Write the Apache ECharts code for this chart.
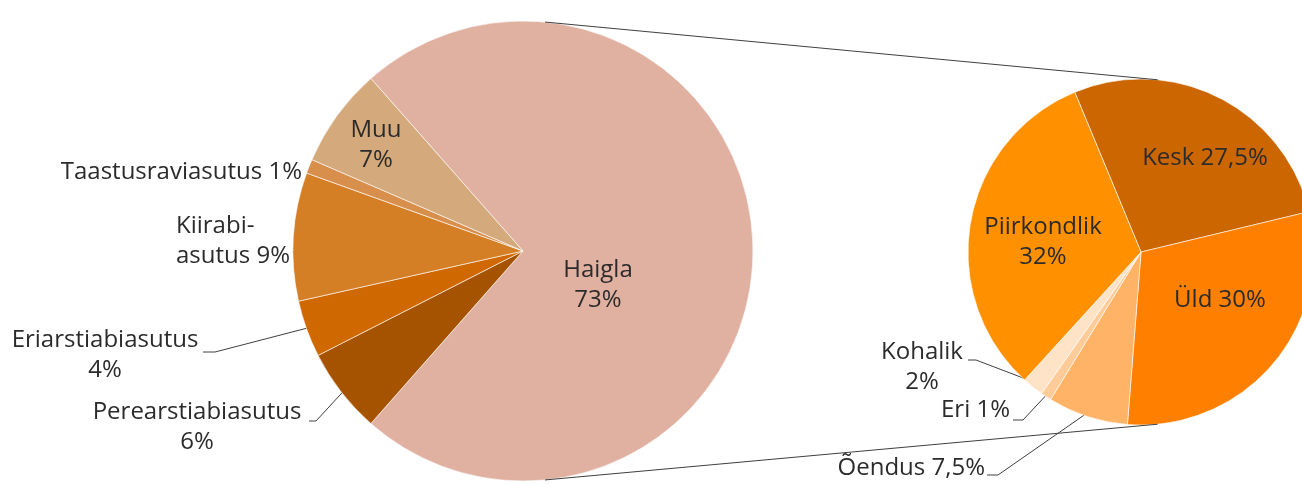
<!DOCTYPE html>
<html>
<head>
<meta charset="utf-8">
<script src="https://cdn.jsdelivr.net/npm/echarts@6/dist/echarts.min.js"></script>
<style>
html, body { margin: 0; padding: 0; background: #fff; }
#chart { width: 1302px; height: 485px; }
</style>
</head>
<body>
<div id="chart"></div>
<script>
// left pie - institution types (clockwise from the top-left edge of Haigla)
const leftNames = ['Haigla', 'Perearstiabiasutus', 'Eriarstiabiasutus', 'Kiirabi-\nasutus', 'Taastusraviasutus', 'Muu'];
const leftValues = [73, 6, 4, 9, 1, 7];
const leftBreak = [true, true, true, false, false, true];

// right pie - hospital breakdown
const rightNames = ['Kesk', 'Üld', 'Õendus', 'Eri', 'Kohalik', 'Piirkondlik'];
const rightValues = [27.5, 30, 7.5, 1, 2, 32];
const rightBreak = [false, false, false, false, true, true];

const leftColors = ['#e0b0a1', '#a65300', '#d06800', '#d47f26', '#d98f4c', '#d4a97b'];
const rightColors = ['#cc6600', '#ff8000', '#ffb366', '#ffcc99', '#ffe3c6', '#ff9100'];

// geometry
const L = { cx: 523, cy: 251, r: 230, start: 131.4 };
const R = { cx: 1141, cy: 252, r: 173, start: 112.5 };

// label placement (x, y, align, optional leader start points)
const leftLabels = [
    { x: 598, y: 285, align: 'center' },
    { x: 197, y: 427, align: 'center', line: [[309, 421], [316, 421]] },
    { x: 105, y: 355, align: 'center', line: [[203, 352], [215, 352]] },
    { x: 176, y: 241, align: 'left' },
    { x: 302, y: 172, align: 'right' },
    { x: 376, y: 145, align: 'center' }
];
const rightLabels = [
    { x: 1205, y: 158, align: 'center' },
    { x: 1220, y: 300, align: 'center' },
    { x: 985, y: 468, align: 'right', line: [[987, 475], [998, 475]] },
    { x: 1010, y: 410, align: 'right', line: [[1013, 420], [1023, 420]] },
    { x: 922, y: 367, align: 'center', line: [[968, 360], [976, 360]] },
    { x: 1043, y: 242, align: 'center' }
];

function midAngle(values, start, i) {
    let total = 0, before = 0;
    values.forEach(function (v, k) { total += v; if (k < i) before += v; });
    return start - (before + values[i] / 2) / total * 360;
}
function point(p, deg, k) {
    const a = deg * Math.PI / 180;
    return [p.cx + p.r * k * Math.cos(a), p.cy - p.r * k * Math.sin(a)];
}
function fmt(v) {
    return String(v).replace('.', ',') + '%';
}

const textStyle = {
    fontFamily: "'Open Sans', 'Noto Sans', sans-serif",
    fontSize: 24,
    color: '#2b2b2b',
    lineHeight: 30
};

function makeSeries(names, values, colors, breaks, labels, geo) {
    return {
        type: 'pie',
        center: [geo.cx, geo.cy],
        radius: geo.r,
        startAngle: geo.start,
        clockwise: true,
        avoidLabelOverlap: false,
        animation: false,
        itemStyle: { borderColor: 'rgba(255,255,255,0.6)', borderWidth: 1 },
        label: Object.assign({
            position: 'outside',
            formatter: function (p) {
                return p.name + (breaks[p.dataIndex] ? '\n' : ' ') + fmt(p.value);
            }
        }, textStyle),
        labelLine: { show: true, lineStyle: { color: '#404040', width: 1 } },
        labelLayout: function (params) {
            const s = labels[params.dataIndex];
            const out = { x: s.x, y: s.y, align: s.align, verticalAlign: 'middle' };
            if (s.line) {
                out.labelLinePoints = [s.line[0], s.line[1], point(geo, midAngle(values, geo.start, params.dataIndex), 0.97)];
            }
            return out;
        },
        data: names.map(function (n, i) {
            return {
                name: n,
                value: values[i],
                itemStyle: { color: colors[i] },
                labelLine: { show: !!labels[i].line }
            };
        })
    };
}

// connector lines between the two pies
const connAngle = 84.5;
const topA = point(L, connAngle, 1), topB = point(R, connAngle, 1);
const botA = point(L, -connAngle, 1), botB = point(R, -connAngle, 1);

const chart = echarts.init(document.getElementById('chart'));
chart.setOption({
    backgroundColor: '#fff',
    animation: false,
    series: [
        makeSeries(leftNames, leftValues, leftColors, leftBreak, leftLabels, L),
        makeSeries(rightNames, rightValues, rightColors, rightBreak, rightLabels, R)
    ],
    graphic: [
        { type: 'line', z: 10, shape: { x1: topA[0], y1: topA[1], x2: topB[0], y2: topB[1] }, style: { stroke: '#404040', lineWidth: 1 } },
        { type: 'line', z: 10, shape: { x1: botA[0], y1: botA[1], x2: botB[0], y2: botB[1] }, style: { stroke: '#404040', lineWidth: 1 } }
    ]
});
</script>
</body>
</html>
